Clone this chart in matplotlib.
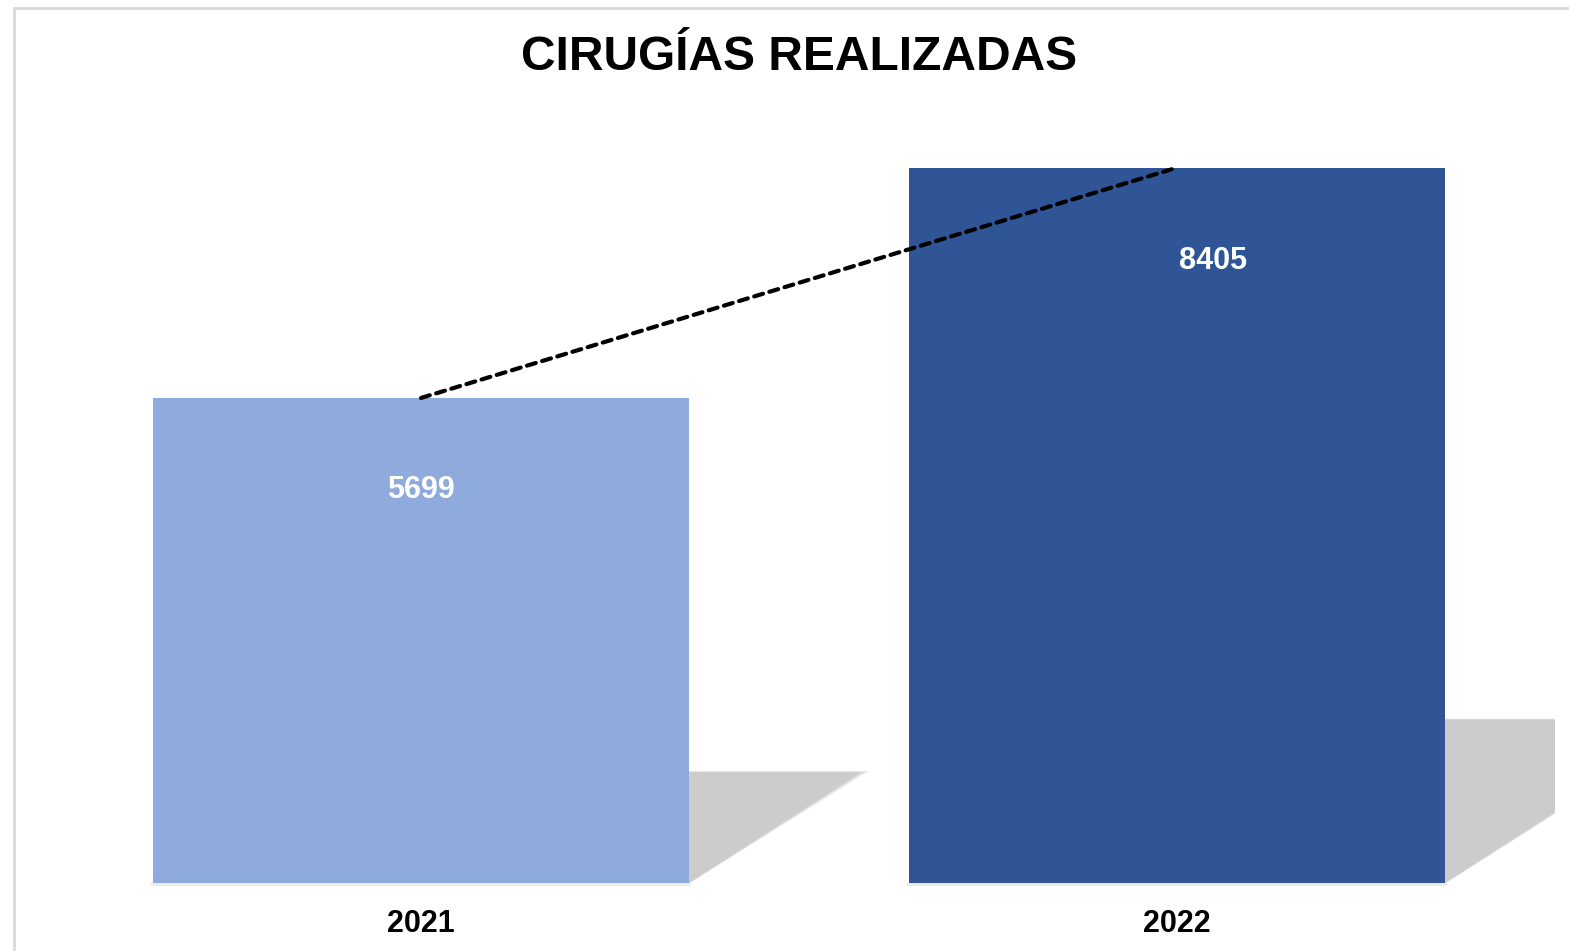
import matplotlib
matplotlib.use("Agg")
import matplotlib.pyplot as plt
from matplotlib.patches import Rectangle, Polygon
import numpy as np

# Cirugias realizadas por año
years = ["2021", "2022"]
cirugias = [5699, 8405]
colors = ["#8FAADC", "#2F5597"]

plt.rcParams['font.family'] = ['Liberation Sans', 'DejaVu Sans']

W, H = 1569, 951
fig = plt.figure(figsize=(W / 100, H / 100), dpi=100)

# chart border (light grey, cut at right/bottom like the original)
fig.patches.append(Rectangle((14 / W, -0.05), 1.2, 1 - 8 / H + 0.05,
                             transform=fig.transFigure, fill=False,
                             edgecolor="#d9d9d9", linewidth=2))

# plot area in pixels
x0, x1 = 43, 1555
ybot, ytop = 883, 117
ymax = 9000
ax = fig.add_axes([x0 / W, (H - ybot) / H, (x1 - x0) / W, (ybot - ytop) / H])
ax.set_xlim(-0.5, 1.5)
ax.set_ylim(0, ymax)

x = np.arange(len(years))
bw = 0.709

# perspective shadows behind bars
px_per_unit_x = (x1 - x0) / 2.0
px_per_unit_y = (ybot - ytop) / ymax
for xi, v in zip(x, cirugias):
    h = 0.228 * v
    ext = (h * px_per_unit_y / 0.645) / px_per_unit_x
    re = xi + bw / 2
    for k, a in zip(range(4), [0.25, 0.35, 0.55, 1.0]):
        s = (3 - k) * 0.004
        poly = Polygon([(re, h + s * 1500), (re + ext + s, h + s * 1500),
                        (re, -s * 500)], closed=True,
                       facecolor="#cccccc", edgecolor="none", alpha=a, zorder=1)
        ax.add_patch(poly)

# soft line under the bars
ax.bar(x, 30, bottom=-30, width=bw + 0.004, color="#ebebeb",
       zorder=1.5, clip_on=False)
bars = ax.bar(x, cirugias, width=bw, color=colors, zorder=2)

# value labels
label_offsets = [(0, -66.5), (26, -67.5)]
for xi, v, off in zip(x, cirugias, label_offsets):
    ax.annotate(str(v), (xi, v), xytext=off, textcoords="offset points",
                ha="center", va="center", color="white", fontsize=22,
                fontweight="bold", zorder=4)

# linear trend line
coef = np.polyfit(x, cirugias, 1)
tx = np.array([0, 0.993])
ax.plot(tx, np.polyval(coef, tx), color="black", linestyle=(0, (2.2, 1.6)),
        linewidth=3, dash_capstyle="round", zorder=3)

ax.set_xticks(x)
ax.set_xticklabels(years, fontsize=22, fontweight="bold")
ax.tick_params(axis="x", length=0, pad=19)
ax.set_yticks([])
for sp in ax.spines.values():
    sp.set_visible(False)

fig.text(799 / W, 1 - 57 / H, "CIRUGÍAS REALIZADAS", ha="center", va="center",
         fontsize=34.5, fontweight="bold")

fig.savefig("out.png", dpi=100, facecolor="white")
